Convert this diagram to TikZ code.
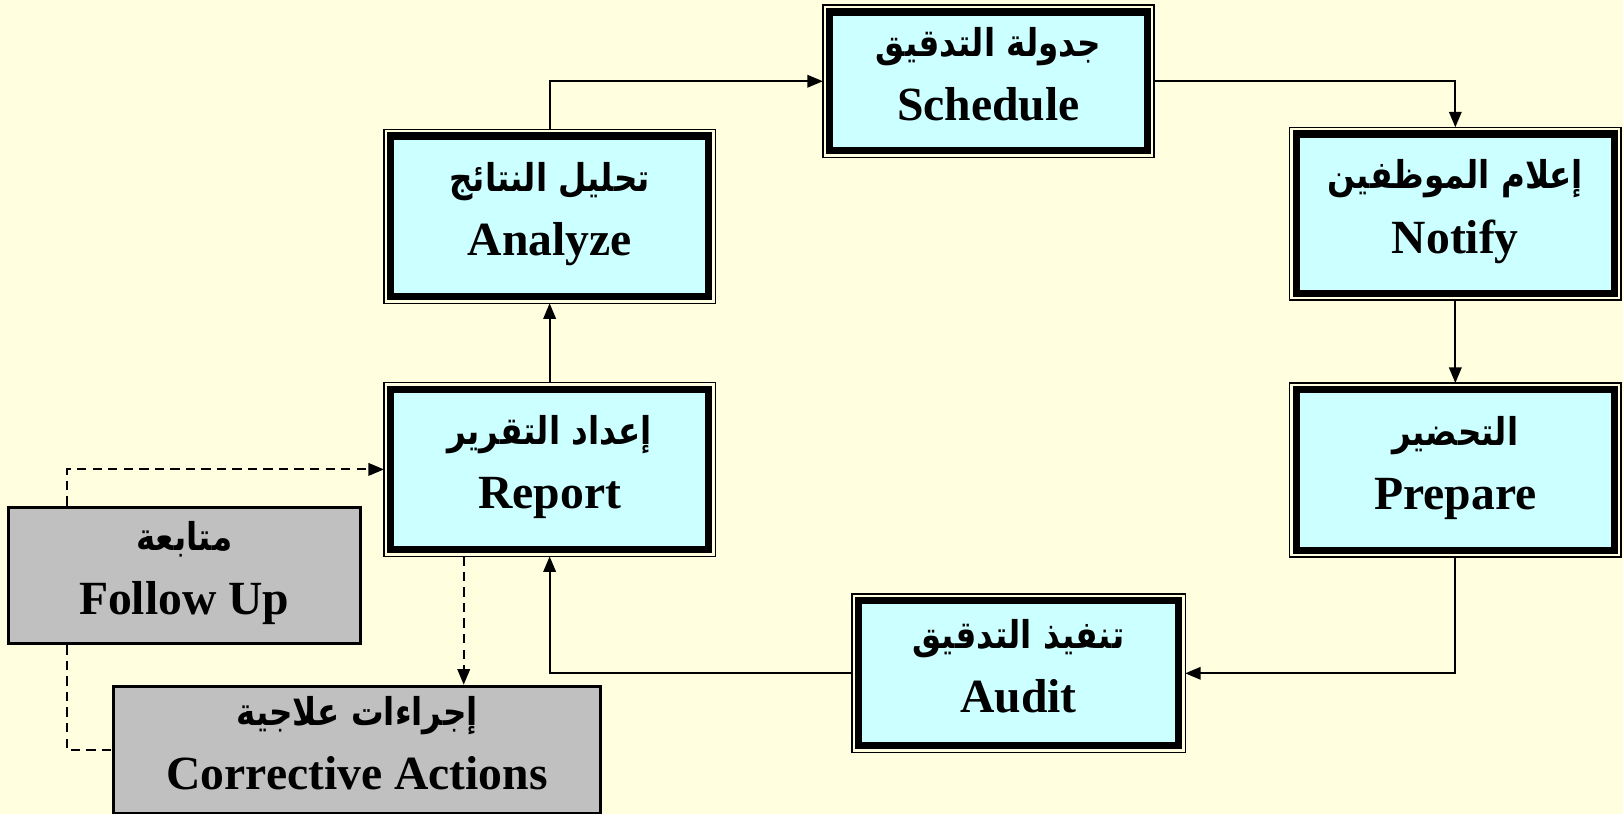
\documentclass[tikz,border=0pt]{standalone}
\usepackage{fontspec}
\setmainfont{Liberation Serif}
\newfontfamily\arabicfont[Script=Arabic,FakeStretch=0.85]{DejaVu Sans}
\TeXXeTstate=1
\usetikzlibrary{arrows.meta,calc}

\definecolor{bgcream}{RGB}{255,255,224}
\definecolor{boxcyan}{RGB}{204,255,255}
\definecolor{boxgray}{RGB}{192,192,192}

\newcommand{\artext}[1]{{\arabicfont\bfseries\fontsize{37}{40}\selectfont\beginR #1\endR}}

\tikzset{
    stagebox/.style={draw=black,line width=7pt,fill=boxcyan,rectangle,
        outer sep=6.5pt,inner sep=0pt,align=center,text depth=14pt,
        font=\bfseries\fontsize{46}{62}\selectfont},
    followbox/.style={draw=black,line width=3pt,fill=boxgray,rectangle,
        inner sep=0pt,align=center,text depth=14pt,
        font=\bfseries\fontsize{46}{62}\selectfont},
    flow/.style={line width=2pt,-{Triangle[length=15pt,width=12pt]}},
    dashflow/.style={line width=2pt,dash pattern=on 9pt off 6pt},
}

\begin{document}
\begin{tikzpicture}[x=1pt,y=-1pt]
    \useasboundingbox[fill=bgcream] (0,0) rectangle (1568,786);

    % the audit cycle
    \node[stagebox,minimum width=307pt,minimum height=134pt] (sched) at (955,78.5)
        {\artext{جدولة التدقيق}\\Schedule};
    \node[stagebox,minimum width=307pt,minimum height=154pt] (notify) at (1406,206.5)
        {\artext{إعلام الموظفين}\\Notify};
    \node[stagebox,minimum width=307pt,minimum height=155pt] (prepare) at (1406,454)
        {\artext{التحضير}\\Prepare};
    \node[stagebox,minimum width=309pt,minimum height=140pt] (audit) at (984,650.5)
        {\artext{تنفيذ التدقيق}\\Audit};
    \node[stagebox,minimum width=307pt,minimum height=155pt] (report) at (531,453.5)
        {\artext{إعداد التقرير}\\Report};
    \node[stagebox,minimum width=307pt,minimum height=155pt] (analyze) at (531,209)
        {\artext{تحليل النتائج}\\Analyze};

    % follow up
    \node[followbox,minimum width=340pt,minimum height=132pt] (follow) at (178,556)
        {\artext{متابعة}\\Follow Up};
    \node[followbox,minimum width=470pt,minimum height=123pt] (corr) at (345,724.5)
        {\artext{إجراءات علاجية}\\Corrective Actions};

    % thin outer frame
    \foreach \n in {sched,notify,prepare,audit,report,analyze}
        \draw[line width=1.3pt] (\n.south west) rectangle (\n.north east);

    \draw[flow] (analyze.north) |- (sched.west);
    \draw[flow] (sched.east) -| (notify.north);
    \draw[flow] (notify) -- (prepare);
    \draw[flow] (prepare.south) |- (audit.east);
    \draw[flow] (audit.west) -| (report.south);
    \draw[flow] (report) -- (analyze);

    \coordinate (fu top) at ($(follow.north west)+(58,0)$);
    \coordinate (fu bot) at ($(follow.south west)+(58,0)$);
    \coordinate (rep out) at ([xshift=-83pt]report.south);
    \draw[dashflow,-{Triangle[length=15pt,width=12pt]}] (fu top) |- (report.west);
    \draw[dashflow,-{Triangle[length=15pt,width=12pt]}] (rep out) -- (rep out |- corr.north);
    \draw[dashflow] (fu bot) |- (corr.west);
\end{tikzpicture}
\end{document}
